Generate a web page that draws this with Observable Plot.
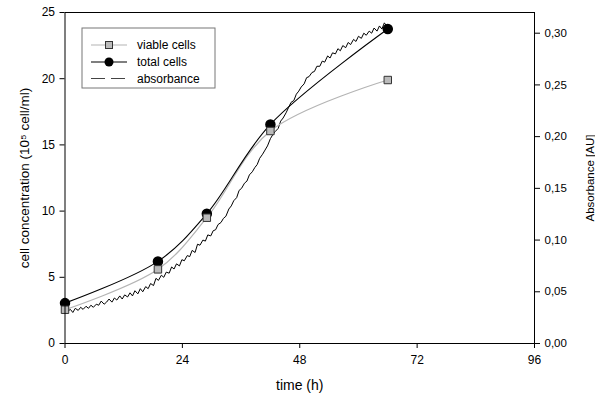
<!DOCTYPE html>
<html>
<head>
<meta charset="utf-8">
<script src="https://cdn.jsdelivr.net/npm/d3@7"></script>
<script src="https://cdn.jsdelivr.net/npm/@observablehq/plot@0.6"></script>
<style>
  html, body { margin: 0; padding: 0; background: #fff; }
  #chart svg { font-family: "Liberation Sans", Arial, sans-serif; }
</style>
</head>
<body>
<div id="chart"></div>
<script>
// ---- data ----
const sampleTimes = [0, 19, 29, 42, 66];              // h
const totalCells  = [3.05, 6.2, 9.8, 16.55, 23.75];   // 10^5 cell/ml
const viableCells = [2.55, 5.6, 9.5, 16.05, 19.9];    // 10^5 cell/ml

const absTimes = [0.5,1.1,1.6,2.1,2.7,3.2,3.7,4.3,4.8,5.3,
  5.8,6.4,6.9,7.4,8.0,8.5,9.0,9.6,10.1,10.6,
  11.2,11.7,12.2,12.8,13.3,13.8,14.3,14.9,15.4,15.9,
  16.5,17.0,17.5,18.1,18.6,19.1,19.7,20.2,20.7,21.3,
  21.8,22.3,22.8,23.4,23.9,24.4,25.0,25.5,26.0,26.6,
  27.1,27.6,28.2,28.7,29.2,29.8,30.3,30.8,31.3,31.9,
  32.4,32.9,33.5,34.0,34.5,35.1,35.6,36.1,36.7,37.2,
  37.7,38.3,38.8,39.3,39.8,40.4,40.9,41.4,42.0,42.5,
  43.0,43.6,44.1,44.6,45.2,45.7,46.2,46.8,47.3,47.8,
  48.3,48.9,49.4,49.9,50.5,51.0,51.5,52.1,52.6,53.1,
  53.7,54.2,54.7,55.3,55.8,56.3,56.8,57.4,57.9,58.4,
  59.0,59.5,60.0,60.6,61.1,61.6,62.2,62.7,63.2,63.8,
  64.3,64.8,65.3,65.9];
const absorbance = [0.031,0.033,0.030,0.034,0.032,0.035,0.033,0.036,0.034,0.037,
  0.035,0.038,0.037,0.041,0.038,0.040,0.043,0.040,0.044,0.042,
  0.046,0.043,0.047,0.045,0.049,0.046,0.051,0.048,0.053,0.050,
  0.055,0.053,0.058,0.056,0.063,0.061,0.066,0.064,0.069,0.068,
  0.074,0.072,0.077,0.075,0.081,0.080,0.085,0.084,0.090,0.088,
  0.096,0.095,0.100,0.099,0.105,0.104,0.109,0.110,0.115,0.117,
  0.121,0.123,0.130,0.133,0.138,0.141,0.148,0.150,0.155,0.157,
  0.163,0.166,0.170,0.173,0.179,0.183,0.187,0.191,0.198,0.202,
  0.205,0.208,0.215,0.218,0.223,0.228,0.233,0.235,0.241,0.244,
  0.248,0.251,0.257,0.258,0.262,0.263,0.268,0.268,0.273,0.272,
  0.278,0.276,0.281,0.280,0.285,0.283,0.288,0.286,0.291,0.289,
  0.294,0.292,0.297,0.295,0.300,0.298,0.302,0.300,0.305,0.302,
  0.307,0.304,0.310,0.306];

const xTicks = [0, 24, 48, 72, 96];
const yTicks = [0, 5, 10, 15, 20, 25];
const absTicks = [0, 0.05, 0.10, 0.15, 0.20, 0.25, 0.30];
const yLabel = "cell concentration (10⁵ cell/ml)";
const y2Label = "Absorbance [AU]";
const xLabel = "time (h)";
const legendItems = ["viable cells", "total cells", "absorbance"];

// ---- build tables ----
const cells = sampleTimes.map((t, i) => ({t, total: totalCells[i], viable: viableCells[i]}));
const nAbs = Math.min(absTimes.length, absorbance.length);
const absData = absTimes.slice(0, nAbs).map((t, i) => ({t, a: absorbance[i]}));
const yMax = 25, aMax = 0.32, k = yMax / aMax; // absorbance -> left scale

const plot = Plot.plot({
  width: 595,
  height: 400,
  marginLeft: 64.5,
  marginRight: 61,
  marginTop: 12,
  marginBottom: 57,
  style: {fontFamily: '"Liberation Sans", Arial, sans-serif', fontSize: "12px", color: "#000"},
  x: {domain: [0, 96]},
  y: {domain: [0, yMax]},
  marks: [
    Plot.line(absData, {x: "t", y: d => d.a * k, stroke: "#000", strokeWidth: 1}),
    Plot.line(cells, {x: "t", y: "viable", stroke: "#b4b4b4", strokeWidth: 1.2, curve: "catmull-rom"}),
    Plot.line(cells, {x: "t", y: "total", stroke: "#000", strokeWidth: 1.1, curve: "catmull-rom"}),
    Plot.dot(cells, {x: "t", y: "total", r: 4.5, fill: "#000", stroke: "#000"}),
    Plot.dot(cells, {x: "t", y: "viable", symbol: "square", r: 4.2, fill: "#bbbbbb", stroke: "#333", strokeWidth: 1}),
    Plot.frame({stroke: "#000"}),
    Plot.axisX({ticks: xTicks, tickSize: 5, tickPadding: 7, label: null, fontSize: 12, tickFormat: d => String(d)}),
    Plot.axisY({ticks: yTicks, tickSize: 5, tickPadding: 5, label: null, fontSize: 12, tickFormat: d => String(d)}),
    Plot.axisY({anchor: "right", ticks: absTicks.map(v => v * k), tickSize: 5, tickPadding: 5, label: null, fontSize: 11.5,
      tickFormat: v => (v / k).toFixed(2).replace(".", ",")}),
    Plot.text([yLabel], {frameAnchor: "left", dx: -40, rotate: -90, fontSize: 13.5, text: d => d, textAnchor: "middle"}),
    Plot.text([y2Label], {frameAnchor: "right", dx: 56, rotate: -90, fontSize: 11.5, text: d => d, textAnchor: "middle"}),
    Plot.text([xLabel], {frameAnchor: "bottom", dy: 46, fontSize: 14, text: d => d, textAnchor: "middle"})
  ]
});

// ---- legend box (drawn into the same svg) ----
const svg = d3.select(plot);
const lg = svg.append("g")
  .attr("font-family", '"Liberation Sans", Arial, sans-serif')
  .attr("font-size", 12)
  .attr("text-anchor", "start");
lg.append("rect").attr("x", 82).attr("y", 28).attr("width", 133).attr("height", 60)
  .attr("fill", "#fff").attr("stroke", "#777").attr("stroke-width", 1);
const rows = [45, 62, 78.5];
// viable
lg.append("line").attr("x1", 91).attr("x2", 127).attr("y1", rows[0]).attr("y2", rows[0]).attr("stroke", "#b4b4b4").attr("stroke-width", 1.2);
lg.append("rect").attr("x", 105.5).attr("y", rows[0] - 3.5).attr("width", 7).attr("height", 7).attr("fill", "#bbbbbb").attr("stroke", "#333");
// total
lg.append("line").attr("x1", 91).attr("x2", 127).attr("y1", rows[1]).attr("y2", rows[1]).attr("stroke", "#000").attr("stroke-width", 1.1);
lg.append("circle").attr("cx", 109).attr("cy", rows[1]).attr("r", 4.5).attr("fill", "#000");
// absorbance (dashed)
lg.append("line").attr("x1", 91).attr("x2", 127).attr("y1", rows[2]).attr("y2", rows[2]).attr("stroke", "#444").attr("stroke-width", 1.2).attr("stroke-dasharray", "14,6");
legendItems.forEach((s, i) => {
  lg.append("text").attr("x", 137).attr("y", rows[i]).attr("dy", "0.35em").attr("fill", "#000").attr("text-anchor", "start").text(s);
});

document.getElementById("chart").appendChild(plot);
</script>
</body>
</html>
